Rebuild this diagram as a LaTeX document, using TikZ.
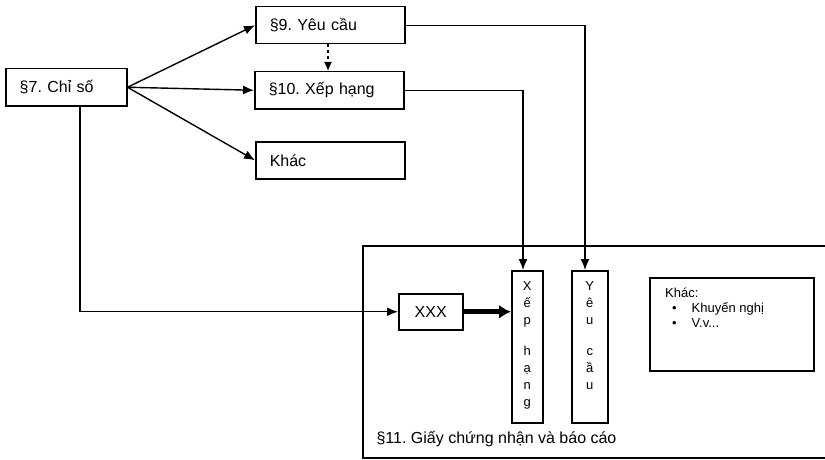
\documentclass[tikz,border=0pt]{standalone}
\usepackage{fontspec}
\setmainfont{Liberation Sans}
\usetikzlibrary{arrows.meta}
\frenchspacing
\begin{document}
\begin{tikzpicture}[x=1pt,y=-1pt,
  box/.style={draw,line width=1.5pt,minimum height=37pt,anchor=north west,inner sep=0pt,font=\fontsize{16}{19}\selectfont,align=left,text width=#1,inner xsep=14pt},
  vbox/.style={draw,line width=1.5pt,anchor=north west,minimum width=31pt,minimum height=152pt,inner sep=0pt},
  vtext/.style={anchor=north,font=\fontsize{13}{17}\selectfont,align=center,inner sep=0pt},
  conn/.style={line width=1.4pt,-{Latex[length=11pt,width=9pt]}},
  plain/.style={line width=1.4pt}]
\useasboundingbox (0,0) rectangle (825,460);
% top boxes
\node[box=93pt,minimum width=121pt] (c7) at (5,68) {§7. Chỉ số};
\node[box=121pt,minimum width=149pt] (c9) at (255,6) {§9. Yêu cầu};
\node[box=121pt,minimum width=149pt] (c10) at (254,71) {§10. Xếp hạng};
\node[box=121pt,minimum width=149pt] (kh) at (255,141) {Khác};
% certificate frame (open on the right)
\coordinate (ftl) at (363,246);
\coordinate (ftr) at (825,246);
\coordinate (fbl) at (363,458);
\coordinate (fbr) at (825,458);
\draw[plain] (ftr) -- (ftl) -- (fbl) -- (fbr);
\node[anchor=west,font=\fontsize{16}{19}\selectfont] (c11) at (373,439) {§11. Giấy chứng nhận và báo cáo};
% inner boxes
\node[draw,line width=1.5pt,anchor=north west,minimum width=64pt,minimum height=36pt,inner sep=0pt,font=\fontsize{16}{19}\selectfont] (xxx) at (398,293) {XXX};
\node[vbox] (xh) at (511,270) {};
\node[vbox,minimum width=36pt] (yc) at (571,270) {};
\node[vtext] (xht) at ([yshift=-11pt]xh.north) {X\\ế\\p\\[14pt]h\\ạ\\n\\g};
\node[vtext] (yct) at ([yshift=-11pt]yc.north) {Y\\ê\\u\\[14pt]c\\ầ\\u};
\node[draw,line width=1.5pt,anchor=north west,minimum width=164pt,minimum height=93pt,inner sep=0pt] (other) at (649,277) {};
\node[anchor=north west,font=\fontsize{13}{16}\selectfont,align=left,inner sep=0pt] (othert) at (665,288)
  {Khác:\\[-1pt]\hspace*{7pt}\textbullet\hspace{15pt}Khuyến nghị\\[-1pt]\hspace*{7pt}\textbullet\hspace{15pt}V.v...};
% connectors
\draw[conn] (c7.east) -- (c9.west);
\draw[conn] (c7.east) -- (c10.west);
\draw[conn] (c7.east) -- (kh.west);
\draw[line width=1.4pt,dashed,-{Latex[length=9pt,width=8pt]}] (c9.south -| 328,0) -- (c10.north -| 328,0);
\draw[conn] (c7.south -| 80,0) |- (xxx.west);
\draw[line width=5pt,-{Latex[length=12pt,width=14pt]}] (xxx.east) -- (xh.west |- xxx.east);
\draw[conn] (c10.east) -| (xh.north -| 523,0);
\draw[conn] (c9.east) -| (yc.north -| 585,0);
\end{tikzpicture}
\end{document}
